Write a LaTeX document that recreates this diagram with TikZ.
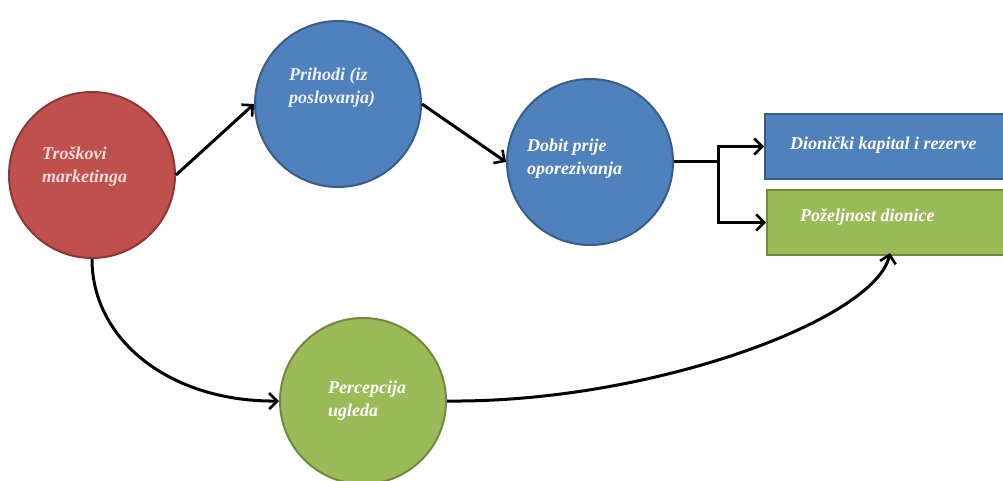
\documentclass[tikz,border=0pt]{standalone}
\usepackage{fontspec}
\setmainfont{Liberation Serif}
\usetikzlibrary{arrows.meta}
\definecolor{redfill}{HTML}{C0504D}
\definecolor{redline}{HTML}{8C3836}
\definecolor{bluefill}{HTML}{4F81BD}
\definecolor{blueline}{HTML}{385D8A}
\definecolor{greenfill}{HTML}{9BBB59}
\definecolor{greenline}{HTML}{71893F}
\definecolor{redtext}{HTML}{F2DCDB}
\definecolor{bluetext}{HTML}{EEF2F8}
\begin{document}
\begin{tikzpicture}[x=1pt,y=-1pt,
  bubble/.style={circle,line width=2pt,minimum size=166pt,inner sep=0pt},
  box/.style={rectangle,line width=2pt,minimum height=65pt,inner sep=0pt,anchor=north west},
  lbl/.style={font=\fontsize{18}{23}\selectfont\bfseries\itshape,align=left,inner sep=0pt,anchor=west},
  conn/.style={line width=3pt,black},
  tip/.style={-{Straight Barb[length=8pt,width=16pt,line width=2.6pt]}}]
\useasboundingbox (0,0) rectangle (1003,481);
\node[bubble,fill=redfill,draw=redline] (trosk) at (92,175) {};
\node[bubble,fill=bluefill,draw=blueline] (prih) at (338,104) {};
\node[bubble,fill=bluefill,draw=blueline] (dobit) at (590,162) {};
\node[bubble,fill=greenfill,draw=greenline] (perc) at (363,401) {};
\node[box,fill=bluefill,draw=blueline,minimum width=245pt] (dion) at (764,113) {};
\node[box,fill=greenfill,draw=greenline,minimum width=245pt] (pozel) at (766,189) {};
\node[lbl,text=redtext] (t1) at (42,167) {Troškovi\\marketinga};
\node[lbl,text=bluetext] (t2) at (289,88) {Prihodi (iz\\poslovanja)};
\node[lbl,text=white] (t3) at (527,159) {Dobit prije\\oporezivanja};
\node[lbl,text=white] (t4) at (328,401) {Percepcija\\ugleda};
\node[lbl,text=white] (t5) at (790,145) {Dionički kapital i rezerve};
\node[lbl,text=white] (t6) at (800,217) {Poželjnost dionice};
\coordinate (split) at (718,162);
\coordinate (pz) at (890,253);
\draw[conn,tip] (trosk.east) -- (prih.west);
\draw[conn,tip] (prih.east) -- (dobit.west);
\draw[conn] (dobit.east) -- (split);
\draw[conn,tip] (split) |- (dion.west);
\draw[conn,tip] (split) |- (pozel.west);
\draw[conn,tip] (trosk.south) .. controls (92,340) and (170,402) .. (perc.west);
\draw[conn,tip] (perc.east) .. controls (650,403) and (875,320) .. (pz);
\end{tikzpicture}
\end{document}
